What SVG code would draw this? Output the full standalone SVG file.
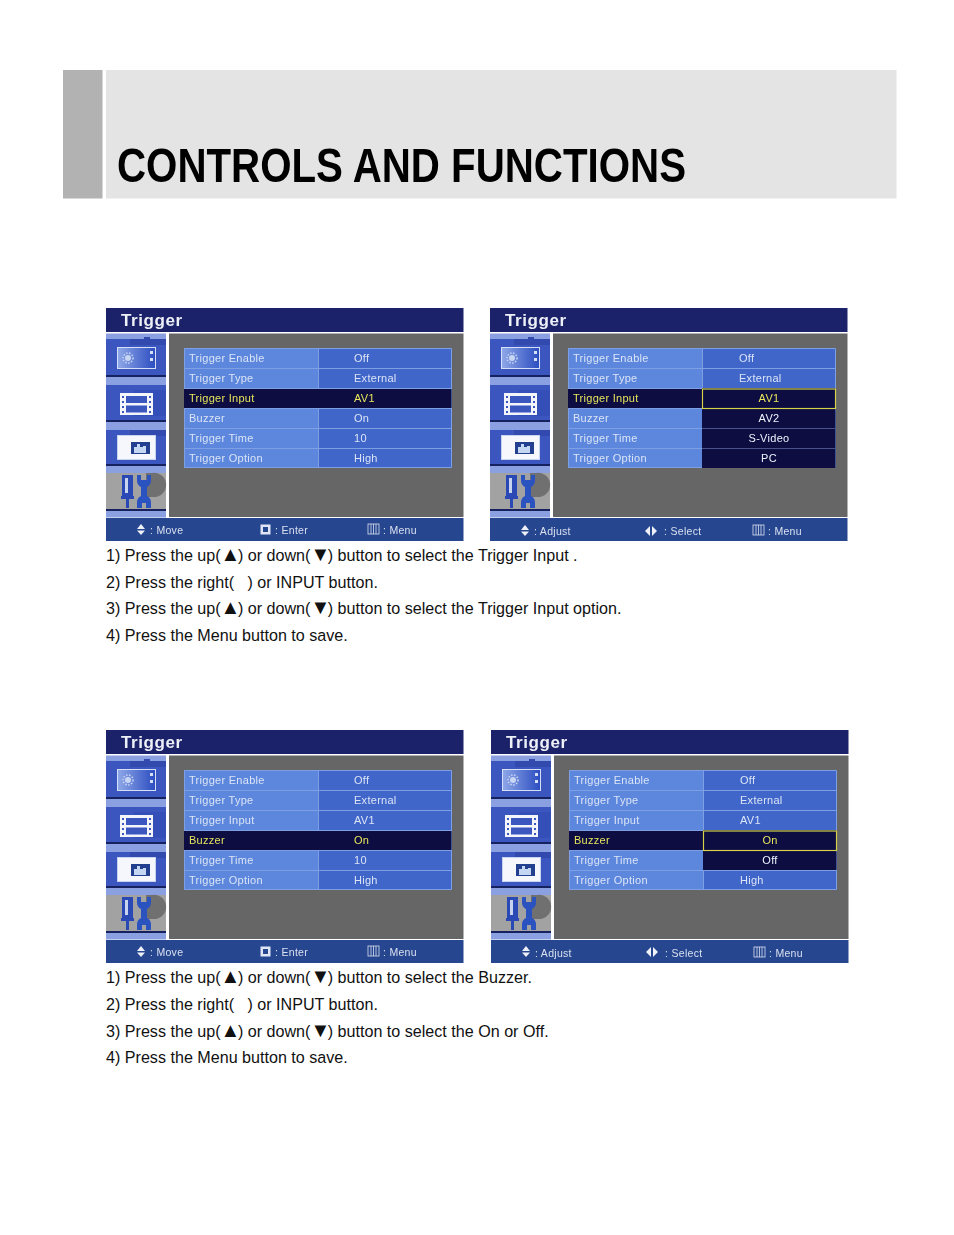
<svg xmlns="http://www.w3.org/2000/svg" width="954" height="1235" viewBox="0 0 954 1235">
<style>
text{font-family:"Liberation Sans",Arial,"DejaVu Sans",sans-serif}
.body{font-size:16.12px;fill:#111}
.tri{font-size:20px;letter-spacing:-2.5px}
.ttl{font-size:17px;font-weight:bold;fill:#eef0f8;letter-spacing:.6px}
.l{font-size:11px;fill:#dce4f6;letter-spacing:.28px}
.sel{fill:#e9e45a}
.w{fill:#f2f4fa}
.m{text-anchor:middle}
.f{font-size:10.5px;fill:#d9e0f0;letter-spacing:.3px}
.lc{fill:#5b87dd}
.vc{fill:#3f66c9}
.dk{fill:#070b42}
.gl{stroke:#7f9fe4;stroke-width:1;fill:none}
</style>
<defs>
<filter id="soft" x="-2%" y="-2%" width="104%" height="104%"><feGaussianBlur stdDeviation="0.35"/></filter>
<linearGradient id="tv" x1="0" y1="0" x2="1" y2="0"><stop offset="0" stop-color="#8fa8e8"/><stop offset="1" stop-color="#2b4cc0"/></linearGradient>
<g id="frame">
<rect x="0" y="0" width="358" height="233" fill="#fff"/>
<rect x="0" y="0" width="357.500" height="24" fill="#1c2369"/>
<rect x="0" y="25.500" width="60" height="184" fill="#8aa0e0"/>
<rect x="63" y="25.500" width="294.500" height="183.500" fill="#666666"/>
<rect x="0" y="210" width="357.500" height="23" fill="#27468f"/>
<rect x="0" y="31" width="60" height="37" fill="#3b56bf"/>
<rect x="24" y="31" width="36" height="6" fill="#3049ad"/>
<rect x="38" y="29" width="6" height="3" fill="#3049ad"/>
<rect x="0" y="67" width="60" height="2" fill="#18245f"/>
<rect x="11.500" y="39.500" width="38" height="21" fill="url(#tv)" stroke="#d5dff5" stroke-width="1"/>
<circle cx="22" cy="50" r="3" fill="#c8d6f4"/>
<circle cx="22" cy="50" r="5" fill="none" stroke="#c8d6f4" stroke-width="1.500" stroke-dasharray="1.500 1.500"/>
<rect x="44" y="43" width="3" height="3" fill="#d5dff5"/>
<rect x="44" y="50" width="3" height="3" fill="#d5dff5"/>
<rect x="0" y="77" width="60" height="36" fill="#3b56bf"/>
<rect x="28" y="82" width="32" height="26" fill="#3550b8"/>
<rect x="0" y="112" width="60" height="2" fill="#18245f"/>
<rect x="14" y="85" width="33" height="22" fill="#f3f5fb"/>
<rect x="20" y="88" width="21" height="7" fill="#3b56bf"/>
<rect x="20" y="97.500" width="21" height="7" fill="#3b56bf"/>
<path d="M16 88h2v2h-2zM16 93h2v2h-2zM16 98h2v2h-2zM16 103h2v2h-2zM43 88h2v2h-2zM43 93h2v2h-2zM43 98h2v2h-2zM43 103h2v2h-2z" fill="#3b56bf"/>
<rect x="0" y="122" width="60" height="35" fill="#3b56bf"/>
<rect x="24" y="122" width="36" height="6" fill="#3049ad"/>
<rect x="0" y="156" width="60" height="2" fill="#18245f"/>
<rect x="11.500" y="127.500" width="38" height="24" fill="#f6f7fc" stroke="#c8d3f0" stroke-width="1"/>
<rect x="25" y="134" width="19" height="12" fill="#24408f"/>
<path d="M28 145v-6h3v-3h3v3h3v-1h3v7z" fill="#c4d6f2"/>
<rect x="0" y="165" width="60" height="37" fill="#a2a2a2"/>
<path d="M40 165h6a12 12 0 0 1 4 24h-10z" fill="#707070"/>
<rect x="0" y="201" width="60" height="2" fill="#18245f"/>
<rect x="16" y="167" width="11" height="21" fill="#2c49b5"/>
<rect x="19" y="170" width="3" height="15" fill="#c8d3f0"/>
<rect x="20" y="188" width="3" height="12" fill="#2c49b5"/>
<rect x="15" y="188" width="13" height="3" fill="#2c49b5"/>
<path d="M31 167v6a7 7 0 0 0 4 6v9a7 7 0 0 0-4 6v6h5v-5h4v5h5v-6a7 7 0 0 0-4-6v-9a7 7 0 0 0 4-6v-6h-4v5h-6v-5z" fill="#2c52c0"/>
</g>
<g id="table">
<rect x="78" y="40" width="134" height="120" class="lc"/>
<rect x="212" y="40" width="133.500" height="120" class="vc"/>
<path class="gl" d="M78.500 40.500H345.500V159.500H78.500ZM78 60.500H345M78 80.500H345M78 100.500H345M78 120.500H345M78 140.500H345M212.500 40V160"/>
</g>
<g id="moveF">
<polygon points="31,221 35,216 39,221" fill="#eef1f8"/>
<polygon points="31,222.500 39,222.500 35,227" fill="#eef1f8"/>
</g>
<g id="menuI">
<rect x="0" y="0" width="11" height="10" fill="none" stroke="#d9e0f0" stroke-width="0.8"/>
<path d="M3 0V10M5.500 0V10M8 0V10" stroke="#d9e0f0" stroke-width="0.8"/>
</g>
<g id="selI">
<polygon points="5,0 5,10 0,5" fill="#eef1f8"/>
<polygon points="7,0 7,10 12,5" fill="#eef1f8"/>
</g>
</defs>

<g id="header">
<rect x="63" y="70" width="39.500" height="128.500" fill="#b2b2b2"/>
<rect x="106" y="70" width="790.500" height="128.500" fill="#e4e4e4"/>
<text x="117" y="181.500" font-size="48" font-weight="bold" fill="#000" textLength="569" lengthAdjust="spacingAndGlyphs" filter="url(#soft)">CONTROLS AND FUNCTIONS</text>
</g>

<g id="panel-trigger-input" transform="translate(106,308)" filter="url(#soft)">
<use href="#frame"/><use href="#table"/>
<rect x="78" y="81" width="267.500" height="19" class="dk"/>
<text x="15" y="18" class="ttl">Trigger</text>
<text x="83" y="54" class="l">Trigger Enable</text><text x="248" y="54" class="l">Off</text>
<text x="83" y="74" class="l">Trigger Type</text><text x="248" y="74" class="l">External</text>
<text x="83" y="94" class="l sel">Trigger Input</text><text x="248" y="94" class="l sel">AV1</text>
<text x="83" y="114" class="l">Buzzer</text><text x="248" y="114" class="l">On</text>
<text x="83" y="134" class="l">Trigger Time</text><text x="248" y="134" class="l">10</text>
<text x="83" y="154" class="l">Trigger Option</text><text x="248" y="154" class="l">High</text>
<use href="#moveF"/>
<text x="44" y="226" class="f">: Move</text>
<rect x="154.500" y="216.500" width="10" height="10" fill="#dfe5f5"/><rect x="157" y="219" width="5" height="5" fill="#27468f"/>
<text x="169" y="226" class="f">: Enter</text>
<use href="#menuI" x="262" y="216"/>
<text x="277" y="226" class="f">: Menu</text>
</g>

<g id="panel-input-options" transform="translate(490,308)" filter="url(#soft)">
<use href="#frame"/><use href="#table"/>
<rect x="78" y="81" width="134" height="19" class="dk"/>
<rect x="212" y="80" width="133.500" height="80" class="dk"/>
<path d="M212 100.500H345M212 120.500H345M212 140.500H345" stroke="#46528a" stroke-width="1"/>
<rect x="212.500" y="81" width="133" height="19.500" fill="none" stroke="#d8d24a" stroke-width="1.200"/>
<text x="15" y="18" class="ttl">Trigger</text>
<text x="83" y="54" class="l">Trigger Enable</text><text x="249" y="54" class="l">Off</text>
<text x="83" y="74" class="l">Trigger Type</text><text x="249" y="74" class="l">External</text>
<text x="83" y="94" class="l sel">Trigger Input</text><text x="279" y="94" class="l sel m">AV1</text>
<text x="83" y="114" class="l">Buzzer</text><text x="279" y="114" class="l w m">AV2</text>
<text x="83" y="134" class="l">Trigger Time</text><text x="279" y="134" class="l w m">S-Video</text>
<text x="83" y="154" class="l">Trigger Option</text><text x="279" y="154" class="l w m">PC</text>
<use href="#moveF" y="1"/>
<text x="44" y="227" class="f">: Adjust</text>
<use href="#selI" x="155" y="218"/>
<text x="174" y="227" class="f">: Select</text>
<use href="#menuI" x="263" y="217"/>
<text x="278" y="227" class="f">: Menu</text>
</g>

<g id="text-input">
<text x="106" y="561" class="body">1) Press the up(<tspan class="tri">▲</tspan>) or down(<tspan class="tri">▼</tspan>) button to select the Trigger Input .</text>
<text x="106" y="588" class="body" xml:space="preserve">2) Press the right(   ) or INPUT button.</text>
<text x="106" y="614" class="body">3) Press the up(<tspan class="tri">▲</tspan>) or down(<tspan class="tri">▼</tspan>) button to select the Trigger Input option.</text>
<text x="106" y="641" class="body">4) Press the Menu button to save.</text>
</g>

<g id="panel-buzzer" transform="translate(106,730)" filter="url(#soft)">
<use href="#frame"/><use href="#table"/>
<rect x="78" y="101" width="267.500" height="19" class="dk"/>
<text x="15" y="18" class="ttl">Trigger</text>
<text x="83" y="54" class="l">Trigger Enable</text><text x="248" y="54" class="l">Off</text>
<text x="83" y="74" class="l">Trigger Type</text><text x="248" y="74" class="l">External</text>
<text x="83" y="94" class="l">Trigger Input</text><text x="248" y="94" class="l">AV1</text>
<text x="83" y="114" class="l sel">Buzzer</text><text x="248" y="114" class="l sel">On</text>
<text x="83" y="134" class="l">Trigger Time</text><text x="248" y="134" class="l">10</text>
<text x="83" y="154" class="l">Trigger Option</text><text x="248" y="154" class="l">High</text>
<use href="#moveF"/>
<text x="44" y="226" class="f">: Move</text>
<rect x="154.500" y="216.500" width="10" height="10" fill="#dfe5f5"/><rect x="157" y="219" width="5" height="5" fill="#27468f"/>
<text x="169" y="226" class="f">: Enter</text>
<use href="#menuI" x="262" y="216"/>
<text x="277" y="226" class="f">: Menu</text>
</g>

<g id="panel-buzzer-options" transform="translate(491,730)" filter="url(#soft)">
<use href="#frame"/><use href="#table"/>
<rect x="78" y="101" width="134" height="19" class="dk"/>
<rect x="212" y="100" width="133.500" height="40" class="dk"/>
<rect x="212.500" y="101" width="133" height="19.500" fill="none" stroke="#d8d24a" stroke-width="1.200"/>
<text x="15" y="18" class="ttl">Trigger</text>
<text x="83" y="54" class="l">Trigger Enable</text><text x="249" y="54" class="l">Off</text>
<text x="83" y="74" class="l">Trigger Type</text><text x="249" y="74" class="l">External</text>
<text x="83" y="94" class="l">Trigger Input</text><text x="249" y="94" class="l">AV1</text>
<text x="83" y="114" class="l sel">Buzzer</text><text x="279" y="114" class="l sel m">On</text>
<text x="83" y="134" class="l">Trigger Time</text><text x="279" y="134" class="l w m">Off</text>
<text x="83" y="154" class="l">Trigger Option</text><text x="249" y="154" class="l">High</text>
<use href="#moveF"/>
<text x="44" y="227" class="f">: Adjust</text>
<use href="#selI" x="155" y="217"/>
<text x="174" y="227" class="f">: Select</text>
<use href="#menuI" x="263" y="217"/>
<text x="278" y="227" class="f">: Menu</text>
</g>

<g id="text-buzzer">
<text x="106" y="983" class="body">1) Press the up(<tspan class="tri">▲</tspan>) or down(<tspan class="tri">▼</tspan>) button to select the Buzzer.</text>
<text x="106" y="1010" class="body" xml:space="preserve">2) Press the right(   ) or INPUT button.</text>
<text x="106" y="1037" class="body">3) Press the up(<tspan class="tri">▲</tspan>) or down(<tspan class="tri">▼</tspan>) button to select the On or Off.</text>
<text x="106" y="1063" class="body">4) Press the Menu button to save.</text>
</g>
</svg>
